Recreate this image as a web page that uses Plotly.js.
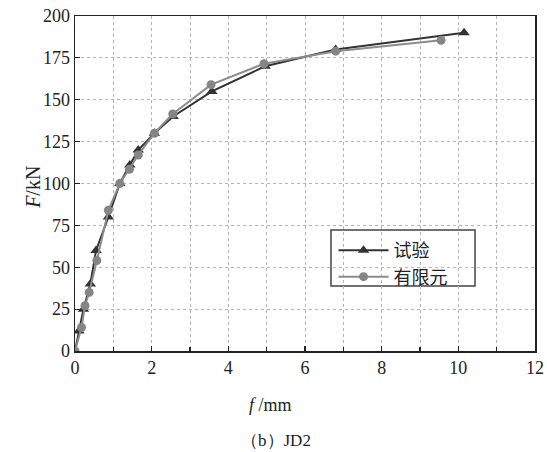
<!DOCTYPE html>
<html>
<head>
<meta charset="utf-8">
<script src="https://cdn.plot.ly/plotly-3.0.1.min.js"></script>
<style>
  html, body { margin: 0; padding: 0; background: #fff; }
  #chart { width: 547px; height: 452px; }
</style>
</head>
<body>
<div id="chart"></div>
<script>
// Load–deflection curves for joint JD2: test vs. finite element
const testDefl = [0, 0.10, 0.22, 0.40, 0.55, 0.87, 1.17, 1.43, 1.65, 2.07, 2.56, 3.57, 4.96, 6.80, 10.15];
const testLoad = [0, 12, 25, 40, 60, 80, 100, 111, 120, 130, 140, 155, 170, 180, 190];

const feDefl = [0, 0.17, 0.26, 0.37, 0.57, 0.87, 1.17, 1.42, 1.65, 2.07, 2.55, 3.55, 4.93, 6.80, 9.55];
const feLoad = [0, 14, 27, 35, 54, 84, 100, 108.5, 117, 130, 141.5, 159, 171.5, 179, 185.5];

const seriesNames = ['试验', '有限元'];
const xTicks = [0, 2, 4, 6, 8, 10, 12];
const yTicks = [0, 25, 50, 75, 100, 125, 150, 175, 200];

const serif = '"Liberation Serif", "Times New Roman", serif';
const cjk = '"Noto Sans CJK SC", sans-serif';

const traces = [
  {
    x: testDefl, y: testLoad, name: seriesNames[0],
    mode: 'lines+markers', type: 'scatter',
    line: { color: '#333333', width: 2 },
    marker: { symbol: 'triangle-up', size: 10, color: '#333333' }
  },
  {
    x: feDefl, y: feLoad, name: seriesNames[1],
    mode: 'lines+markers', type: 'scatter',
    line: { color: '#8c8c8c', width: 2 },
    marker: { symbol: 'circle', size: 9, color: '#858585' }
  }
];

const gridStyle = { gridcolor: '#b5b5b5', griddash: 'dot', gridwidth: 1 };

const layout = {
  width: 547, height: 452,
  margin: { l: 75, r: 12, t: 16, b: 101 },
  paper_bgcolor: '#fff', plot_bgcolor: '#fff',
  font: { family: serif, size: 18, color: '#222' },
  showlegend: true,
  legend: {
    x: 0.562, y: 0.355, xanchor: 'left', yanchor: 'top',
    bgcolor: 'rgba(0,0,0,0)', borderwidth: 0,
    font: { family: cjk, size: 18, color: '#222' },
    tracegroupgap: 0, itemwidth: 50
  },
  // legend frame, drawn wider than the legend's own box
  shapes: [{
    type: 'rect', xref: 'paper', yref: 'paper',
    x0: 0.5565, x1: 0.8696, y0: 0.194, y1: 0.361,
    line: { color: '#444', width: 1.5 }, fillcolor: '#fff', layer: 'below'
  }],
  xaxis: Object.assign({
    range: [0, 12], tickvals: xTicks, ticktext: xTicks.map(String),
    showline: true, linecolor: '#222', linewidth: 1.5, mirror: true,
    ticks: 'inside', ticklen: 5, tickcolor: '#222', tickwidth: 1.2,
    minor: { dtick: 1, showgrid: true, gridcolor: '#b5b5b5', griddash: 'dot', ticks: 'inside', ticklen: 4, tickcolor: '#222' },
    zeroline: false,
    tickfont: { family: serif, size: 18, color: '#222' }
  }, gridStyle),
  yaxis: Object.assign({
    range: [0, 200], tickvals: yTicks, ticktext: yTicks.map(String),
    showline: true, linecolor: '#222', linewidth: 1.5, mirror: true,
    ticks: 'inside', ticklen: 5, tickcolor: '#222', tickwidth: 1.2,
    zeroline: false,
    tickfont: { family: serif, size: 18, color: '#222' }
  }, gridStyle),
  // axis titles and caption placed as paper annotations
  annotations: [
    {
      text: '<i>F</i>/kN', xref: 'paper', yref: 'paper',
      x: -0.0913, y: 0.487, xanchor: 'center', yanchor: 'middle', textangle: -90,
      showarrow: false, font: { family: serif, size: 20, color: '#222' }
    },
    {
      text: '<i>f</i> /mm', xref: 'paper', yref: 'paper',
      x: 0.426, y: -0.161, xanchor: 'center', yanchor: 'middle',
      showarrow: false, font: { family: serif, size: 18, color: '#222' }
    },
    {
      text: '（b）JD2', xref: 'paper', yref: 'paper',
      x: 0.437, y: -0.266, xanchor: 'center', yanchor: 'middle',
      showarrow: false, font: { family: serif, size: 17, color: '#222' }
    }
  ]
};

Plotly.newPlot('chart', traces, layout, { displayModeBar: false, staticPlot: true });
</script>
</body>
</html>
